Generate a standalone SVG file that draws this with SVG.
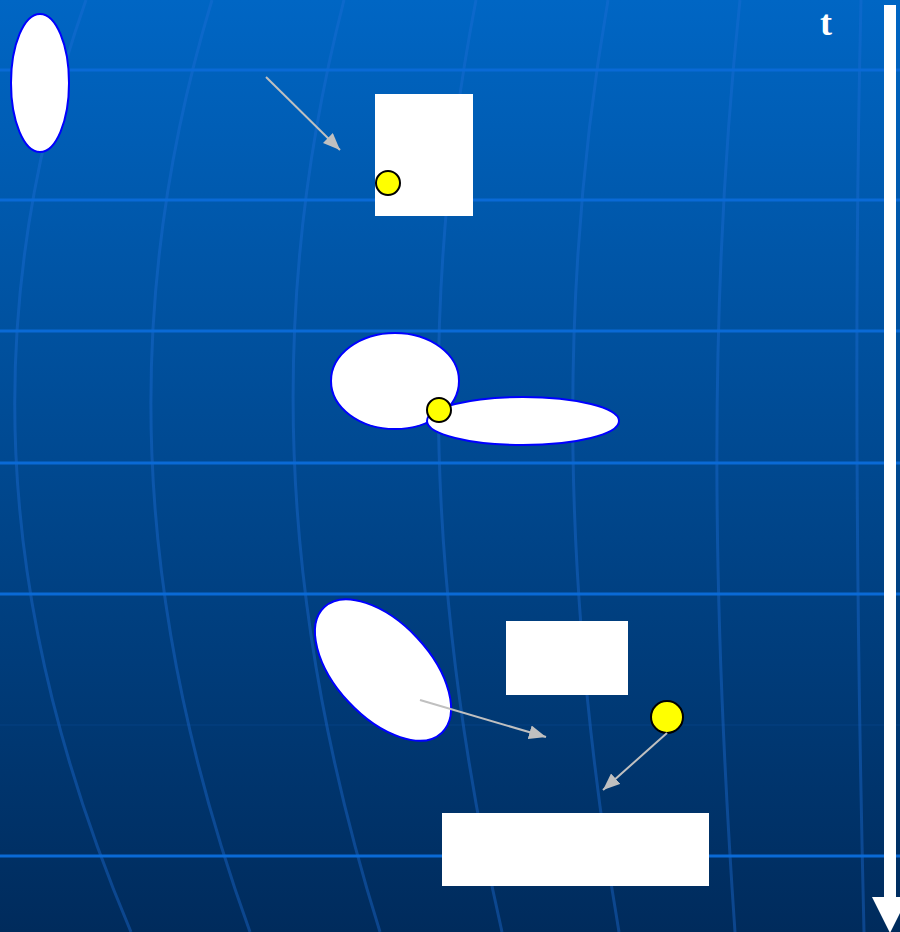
<svg xmlns="http://www.w3.org/2000/svg" width="900" height="932" viewBox="0 0 900 932">
<defs>
<linearGradient id="bg" x1="0" y1="0" x2="0" y2="1">
<stop offset="0" stop-color="#0066C4"/>
<stop offset="1" stop-color="#002B5C"/>
</linearGradient>
<marker id="ah" markerUnits="userSpaceOnUse" markerWidth="18" markerHeight="14" refX="17" refY="7" orient="auto">
<path d="M0,0 L17,7 L0,14 z" fill="#C0C0C0"/>
</marker>
<style>
.grid{fill:none;stroke:#1E6ED8;stroke-opacity:0.4;stroke-width:3}
.hgrid{fill:none;stroke:#0A6AD6;stroke-width:3}
.shape{fill:#FFFFFF;stroke:#0000FF;stroke-width:2}
.box{fill:#FFFFFF}
.dot{fill:#FFFF00;stroke:#000000;stroke-width:2}
.conn{stroke:#C0C0C0;stroke-width:2;fill:none;marker-end:url(#ah)}
</style>
</defs>
<rect x="0" y="0" width="900" height="932" fill="url(#bg)"/>
<g id="background-grid">
<path class="grid" d="M86,0 C-20,300 -10,600 131,932"/>
<path class="grid" d="M212,0 C121,300 130,600 250,932"/>
<path class="grid" d="M344,0 C267,300 276,600 380,932"/>
<path class="grid" d="M476,0 C418,300 427,600 502,932"/>
<path class="grid" d="M608,0 C556,300 563,600 619,932"/>
<path class="grid" d="M740,0 C708,300 712,600 735,932"/>
<path class="grid" d="M861,0 C854,300 856,600 864,932"/>
<line class="hgrid" x1="0" y1="70" x2="900" y2="70"/>
<line class="hgrid" x1="0" y1="200" x2="900" y2="200"/>
<line class="hgrid" x1="0" y1="331" x2="900" y2="331"/>
<line class="hgrid" x1="0" y1="463" x2="900" y2="463"/>
<line class="hgrid" x1="0" y1="594" x2="900" y2="594"/>
<line x1="0" y1="725" x2="900" y2="725" stroke="#1E6ED8" stroke-opacity="0.08" stroke-width="2"/>
<line class="hgrid" x1="0" y1="856" x2="900" y2="856" stroke="#0A4588"/>
</g>
<g id="time-axis">
<rect x="884" y="5" width="12" height="893" fill="#FFFFFF"/>
<polygon points="872,897 908,897 890,933" fill="#FFFFFF"/>
<text x="826" y="35" font-family="Liberation Serif, serif" font-size="36" font-weight="bold" fill="#FFFFFF" text-anchor="middle">t</text>
</g>
<g id="ellipse-top"><ellipse class="shape" cx="40" cy="83" rx="29" ry="69"/></g>
<g id="rect-1"><rect class="box" x="375" y="94" width="98" height="122"/></g>
<g id="dot-1"><circle class="dot" cx="388" cy="183" r="12"/></g>
<g id="ellipse-round"><ellipse class="shape" cx="395" cy="381" rx="64" ry="48"/></g>
<g id="ellipse-flat"><ellipse class="shape" cx="523" cy="421" rx="96" ry="24"/></g>
<g id="dot-2"><circle class="dot" cx="439" cy="410" r="12"/></g>
<g id="ellipse-tilted"><ellipse class="shape" cx="383" cy="670" rx="86" ry="47" transform="rotate(47 383 670)"/></g>
<g id="rect-2"><rect class="box" x="506" y="621" width="122" height="74"/></g>
<g id="dot-3"><circle class="dot" cx="667" cy="717" r="16"/></g>
<g id="rect-3"><rect class="box" x="442" y="813" width="267" height="73"/></g>
<g id="connectors">
<line class="conn" x1="266" y1="77" x2="340" y2="150"/>
<line class="conn" x1="420" y1="700" x2="546" y2="737"/>
<line class="conn" x1="667" y1="733" x2="603" y2="790"/>
</g>
</svg>
